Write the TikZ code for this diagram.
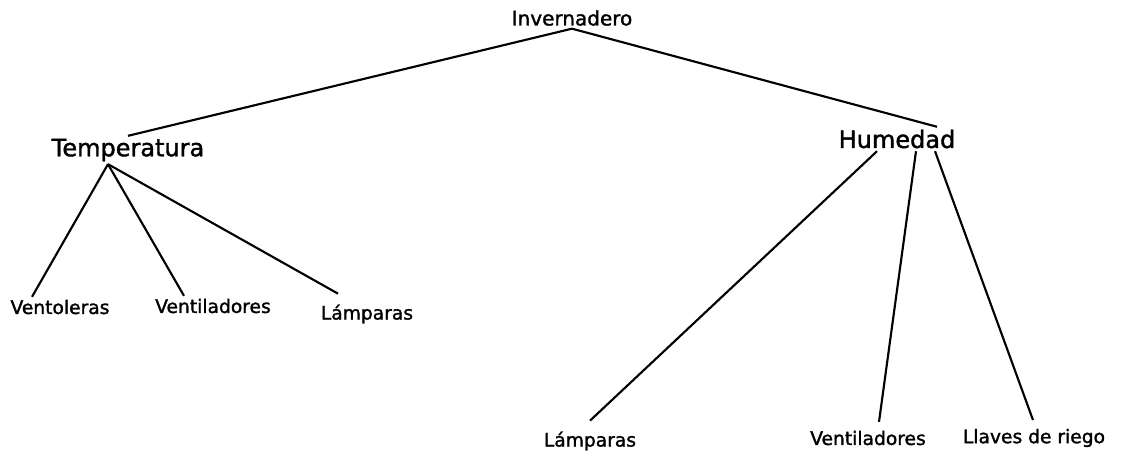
\documentclass[tikz,border=0pt]{standalone}
\usepackage{fontspec}
\setmainfont{DejaVu Sans}[FakeBold=1.5,AutoFakeBold=1.5]
\usetikzlibrary{calc}
\tikzset{
  raiz/.style={font=\fontsize{15}{18}\selectfont\bfseries, inner sep=2pt},
  rama/.style={font=\fontsize{18}{22}\selectfont\bfseries, inner sep=2pt},
  hoja/.style={font=\fontsize{14}{17}\selectfont\bfseries, inner sep=2pt},
  enlace/.style={line width=1.6pt},
}
\begin{document}
\begin{tikzpicture}[x=0.75pt,y=-0.75pt]
\useasboundingbox (0,0) rectangle (1124,456);
% niveles
\node[raiz] (inv) at (572,18) {Invernadero};
\node[rama] (temp) at (128,150) {Temperatura};
\node[rama] (hum) at (897,139) {Humedad};
\node[hoja] (vtra) at (60,307) {Ventoleras};
\node[hoja] (vtla) at (213,306) {Ventiladores};
\node[hoja] (lama) at (367,314) {Lámparas};
\node[hoja] (lamb) at (590,441) {Lámparas};
\node[hoja] (vtlb) at (868,438) {Ventiladores};
\node[hoja] (llav) at (1034,438) {Llaves de riego};
% ramas
\draw[enlace] (inv.south) -- (temp.north);
\draw[enlace] (inv.south) -- ($(hum.north)+(40,0)$);
\draw[enlace] ($(temp.south)+(-20,0)$) -- ($(vtra.north)+(-28,0)$);
\draw[enlace] ($(temp.south)+(-20,0)$) -- ($(vtla.north)+(-29,0)$);
\draw[enlace] ($(temp.south)+(-20,0)$) -- ($(lama.north)+(-29,-8)$);
\draw[enlace] ($(hum.south)+(-20,0)$) -- ($(lamb.north)+(0,-8)$);
\draw[enlace] ($(hum.south)+(19,0)$) -- ($(vtlb.north)+(11,-6)$);
\draw[enlace] ($(hum.south)+(38,0)$) -- ($(llav.north)+(-1,-6)$);
\end{tikzpicture}
\end{document}
